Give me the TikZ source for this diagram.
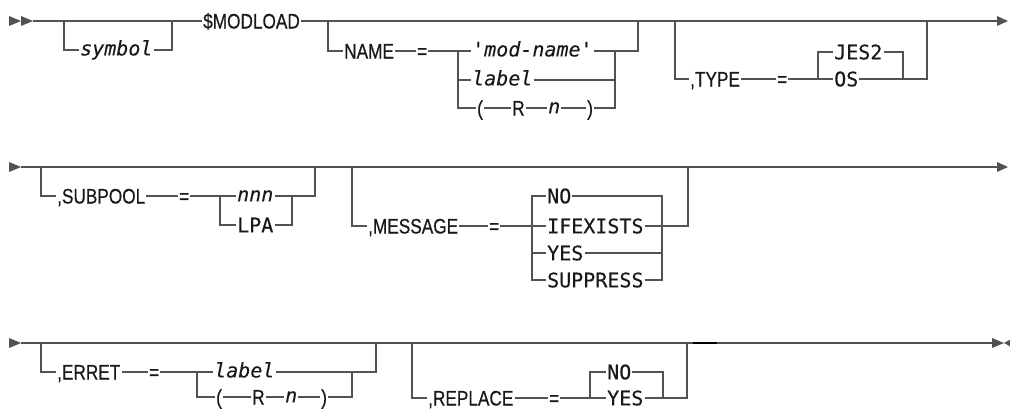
\documentclass[tikz,border=0pt]{standalone}
\usepackage{fontspec}
\usepackage{graphicx}
\newfontfamily\kwfont[FakeBold=0.6]{Liberation Sans}
\newfontfamily\varfont[FakeBold=0.3]{DejaVu Sans Mono}
\newcommand\kwbox[1]{\scalebox{0.82}[1]{#1}}
\definecolor{RailClr}{rgb}{0.32,0.32,0.32}
\definecolor{TextClr}{rgb}{0.1,0.1,0.1}

\begin{document}
\begin{tikzpicture}[x=1pt,y=-1pt,
  rail/.style={RailClr,line width=1.2pt},
  tip/.style={fill=RailClr},
  kw/.style={anchor=west,inner xsep=1pt,inner ysep=0pt,text=TextClr,
    font=\fontsize{21}{21}\kwfont,text height=20pt,text depth=5pt},
  opt/.style={kw,font=\fontsize{20}{20}\varfont,text height=19.6pt,text depth=5pt},
  var/.style={kw,font=\fontsize{20}{20}\varfont\itshape,text height=15.9pt,text depth=5pt}]
\useasboundingbox (0,0) rectangle (1010,410);

\fill[tip] (9,16) -- (21,21) -- (9,26) -- cycle;
\fill[tip] (21,16) -- (33,21) -- (21,26) -- cycle;
\node[var] (symbol) at (79,50) {symbol};
\node[kw] (modload) at (202,21) {\kwbox{\$MODLOAD}};
\draw[rail] (33,21) -- (modload.west);
\draw[rail] (64,21) |- (symbol.west);
\draw[rail] (symbol.east) -| (172,21);
\draw[rail] (modload.east) -- (1000,21);
\fill[tip] (997,16) -- (1008,21) -- (997,26) -- cycle;

\node[kw] (name) at (343,51) {\kwbox{NAME}};
\node[kw] (nameeq) at (416,51) {\kwbox{=}};
\node[var] (modname) at (471,51) {'mod-name'};
\node[var] (namelbl) at (471,80) {label};
\node[kw] (nlp) at (476,108) {\kwbox{(}};
\node[kw] (nreg) at (511,108) {\kwbox{R}};
\node[var] (nnum) at (547,108) {n};
\node[kw] (nrp) at (586,108) {\kwbox{)}};
\draw[rail] (328,21) |- (name.west);
\draw[rail] (name.east) -- (nameeq.west);
\draw[rail] (nameeq.east) -- (modname.west);
\draw[rail] (modname.east) -| (638,21);
\draw[rail] (458,51) |- (namelbl.west);
\draw[rail] (458,80) |- (nlp.west);
\draw[rail] (nlp.east) -- (nreg.west);
\draw[rail] (nreg.east) -- (nnum.west);
\draw[rail] (nnum.east) -- (nrp.west);
\draw[rail] (nrp.east) -| (615,51);
\draw[rail] (namelbl.east) -- (615,80);

\node[kw] (type) at (689,79) {\kwbox{,TYPE}};
\node[kw] (typeeq) at (776,79) {\kwbox{=}};
\node[opt] (os) at (833,79) {OS};
\node[opt] (jes) at (833,52) {JES2};
\draw[rail] (675,21) |- (type.west);
\draw[rail] (type.east) -- (typeeq.west);
\draw[rail] (typeeq.east) -- (os.west);
\draw[rail] (os.east) -| (927,21);
\draw[rail] (818,79) |- (jes.west);
\draw[rail] (jes.east) -| (903,79);

\fill[tip] (9,162) -- (21,167) -- (9,172) -- cycle;
\draw[rail] (21,167) -- (1000,167);
\fill[tip] (997,162) -- (1008,167) -- (997,172) -- cycle;

\node[kw] (subpool) at (56,196) {\kwbox{,SUBPOOL}};
\node[kw] (subeq) at (178,196) {\kwbox{=}};
\node[var] (nnn) at (236,196) {nnn};
\node[opt] (lpa) at (236,225) {LPA};
\draw[rail] (41,167) |- (subpool.west);
\draw[rail] (subpool.east) -- (subeq.west);
\draw[rail] (subeq.east) -- (nnn.west);
\draw[rail] (nnn.east) -| (315,167);
\draw[rail] (220,196) |- (lpa.west);
\draw[rail] (lpa.east) -| (292,196);

\node[kw] (message) at (367,226) {\kwbox{,MESSAGE}};
\node[kw] (msgeq) at (488,226) {\kwbox{=}};
\node[opt] (msgno) at (546,196) {NO};
\node[opt] (ifexists) at (546,226) {IFEXISTS};
\node[opt] (msgyes) at (546,253) {YES};
\node[opt] (suppress) at (546,280) {SUPPRESS};
\draw[rail] (352,167) |- (message.west);
\draw[rail] (message.east) -- (msgeq.west);
\draw[rail] (msgeq.east) -- (ifexists.west);
\draw[rail] (ifexists.east) -| (688,167);
\draw[rail] (msgno.west) -| (532,280) -- (suppress.west);
\draw[rail] (532,253) -- (msgyes.west);
\draw[rail] (msgno.east) -| (662,280) -- (suppress.east);
\draw[rail] (msgyes.east) -- (662,253);

\fill[tip] (9,338) -- (21,343) -- (9,348) -- cycle;
\draw[rail] (21,343) -- (993,343);
\draw[black,line width=2pt] (693,343) -- (717,343);
\fill[tip] (992,338) -- (1004,343) -- (992,348) -- cycle;
\fill[tip] (1013,338) -- (1004,343) -- (1013,348) -- cycle;

\node[kw] (erret) at (56,372) {\kwbox{,ERRET}};
\node[kw] (erreq) at (148,372) {\kwbox{=}};
\node[var] (errlbl) at (213,372) {label};
\node[kw] (elp) at (215,397) {\kwbox{(}};
\node[kw] (ereg) at (251,397) {\kwbox{R}};
\node[var] (enum) at (284,397) {n};
\node[kw] (erp) at (320,397) {\kwbox{)}};
\draw[rail] (41,343) |- (erret.west);
\draw[rail] (erret.east) -- (erreq.west);
\draw[rail] (erreq.east) -- (errlbl.west);
\draw[rail] (errlbl.east) -| (376,343);
\draw[rail] (197,372) |- (elp.west);
\draw[rail] (elp.east) -- (ereg.west);
\draw[rail] (ereg.east) -- (enum.west);
\draw[rail] (enum.east) -- (erp.west);
\draw[rail] (erp.east) -| (352,372);

\node[kw] (replace) at (427,398) {\kwbox{,REPLACE}};
\node[kw] (repeq) at (548,398) {\kwbox{=}};
\node[opt] (repyes) at (606,398) {YES};
\node[opt] (repno) at (606,372) {NO};
\draw[rail] (412,343) |- (replace.west);
\draw[rail] (replace.east) -- (repeq.west);
\draw[rail] (repeq.east) -- (repyes.west);
\draw[rail] (repyes.east) -| (687,343);
\draw[rail] (590,398) |- (repno.west);
\draw[rail] (repno.east) -| (663,398);
\end{tikzpicture}
\end{document}
